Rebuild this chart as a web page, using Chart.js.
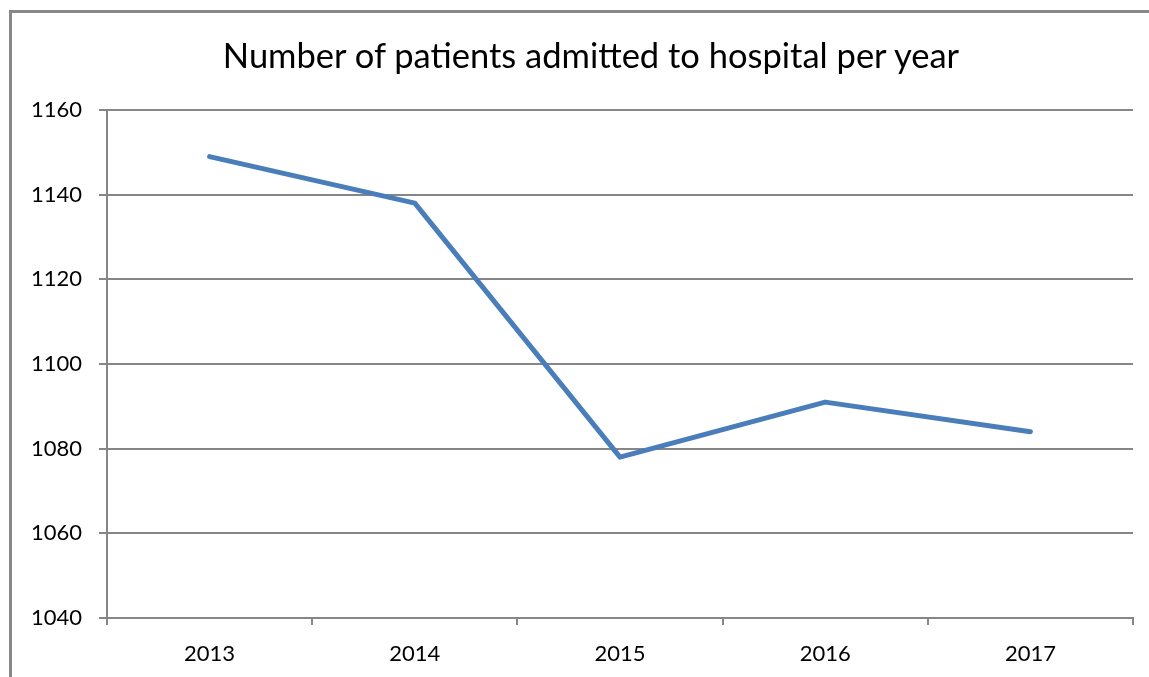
<!DOCTYPE html>
<html><head><meta charset="utf-8">
<script src="https://cdn.jsdelivr.net/npm/chart.js@4.4.0/dist/chart.umd.min.js"></script>
<style>html,body{margin:0;padding:0;background:#fff;overflow:hidden;}
#wrap{position:absolute;left:0;top:0;width:1149px;height:677px;overflow:hidden;}
#frame{position:absolute;left:9px;top:10px;width:1160px;height:700px;border-left:3px solid #888;border-top:3px solid #888;pointer-events:none;}
#title{position:absolute;left:0;top:34px;width:1182px;text-align:center;font-family:Lato,sans-serif;font-size:34.5px;line-height:41.4px;color:#000;white-space:nowrap;}
canvas{position:absolute;left:0;top:0;}</style>
</head><body><div id="wrap"><canvas id="c" width="1149" height="677"></canvas><div id="frame"></div><div id="title"></div></div>
<script>
const titleText = "Number of patients admitted to hospital per year";
const years = ["2013", "2014", "2015", "2016", "2017"];
const patients = [1149, 1138, 1078, 1091, 1084];
const yMin = 1040, yMax = 1160, yStep = 20;

const GRID = '#868686';
const FONT = 'Lato';
document.getElementById('title').textContent = titleText;

new Chart(document.getElementById('c'), {
  type: 'line',
  data: { labels: years, datasets: [{ data: patients, borderColor: '#4a7ebb', borderWidth: 5, pointRadius: 0, tension: 0, fill: false, borderCapStyle: 'round', borderJoinStyle: 'round' }] },
  options: {
    responsive: false, animation: false,
    layout: { padding: { left: 0, right: 16, top: 110, bottom: 0 } },
    plugins: {
      legend: { display: false }, tooltip: { enabled: false }, title: { display: false }
    },
    scales: {
      x: {
        offset: true,
        grid: { offset: true, drawOnChartArea: false, drawTicks: true, tickLength: 7, color: GRID, lineWidth: 2 },
        border: { display: true, color: GRID, width: 2 },
        ticks: { color: '#000', font: { family: FONT, size: 22 }, padding: 16 },
        afterFit(s) { s.height = 59; }
      },
      y: {
        min: yMin, max: yMax,
        grid: { color: GRID, lineWidth: 2, drawTicks: true, tickLength: 8 },
        border: { display: true, color: GRID, width: 2 },
        ticks: { stepSize: yStep, color: '#000', font: { family: FONT, size: 22 }, padding: 17, callback: v => String(v) },
        afterFit(s) { s.width = 107; }
      }
    }
  }
});
</script></body></html>
